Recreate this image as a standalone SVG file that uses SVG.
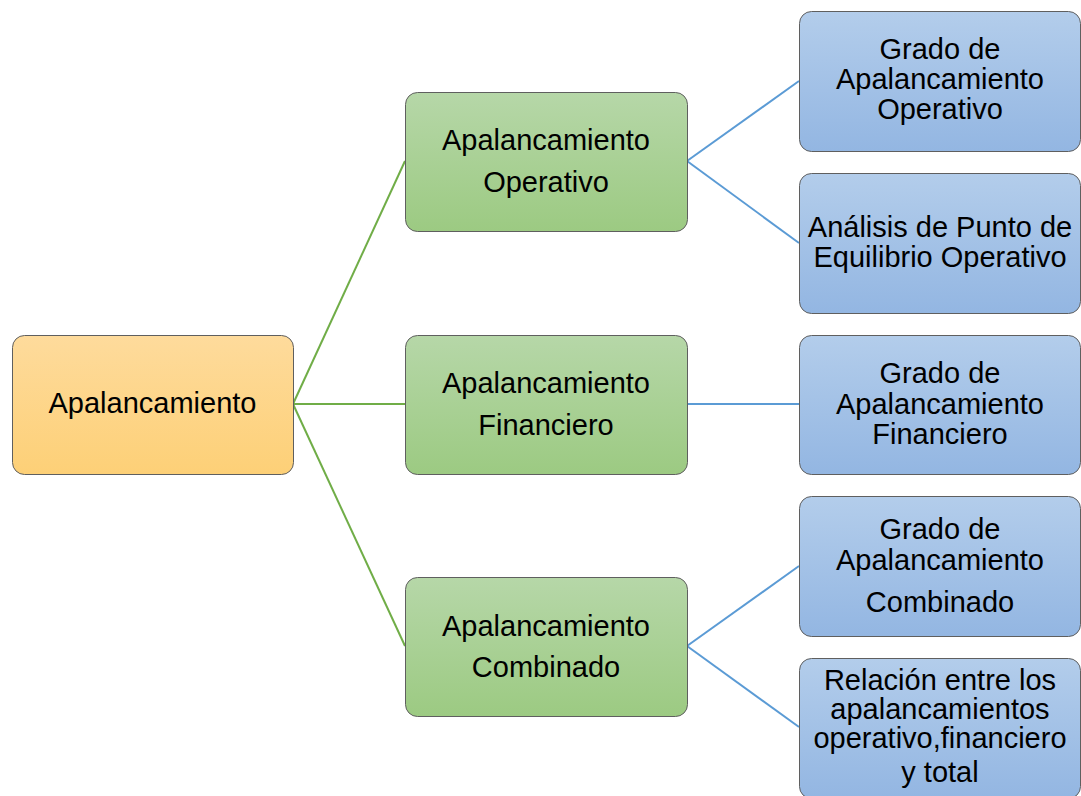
<svg xmlns="http://www.w3.org/2000/svg" width="1081" height="796" viewBox="0 0 1081 796">
<defs>
<linearGradient id="gOr" x1="0" y1="0" x2="0" y2="1"><stop offset="0" stop-color="#FEDB9C"/><stop offset="1" stop-color="#FDD077"/></linearGradient>
<linearGradient id="gGr" x1="0" y1="0" x2="0" y2="1"><stop offset="0" stop-color="#B6D7A8"/><stop offset="1" stop-color="#9CCA82"/></linearGradient>
<linearGradient id="gBl" x1="0" y1="0" x2="0" y2="1"><stop offset="0" stop-color="#B3CDEB"/><stop offset="1" stop-color="#93B6E2"/></linearGradient>
<style>
.box{stroke:#5F5F5F;stroke-width:1}
.or{fill:url(#gOr)}
.gr{fill:url(#gGr)}
.bl{fill:url(#gBl)}
text{font-family:"Liberation Sans",Arial,sans-serif;font-size:29px;fill:#000;text-anchor:middle}
.cg{stroke:#70AD47;stroke-width:2;fill:none}
.cb{stroke:#5B9BD5;stroke-width:2;fill:none}
</style>
</defs>
<rect width="1081" height="796" fill="#FFFFFF"/>
<g id="connectors">
<path class="cg" d="M293 404 L405 161"/>
<path class="cg" d="M293 404 L405 404"/>
<path class="cg" d="M293 404 L405 646"/>
<path class="cb" d="M687 161 L799 81"/>
<path class="cb" d="M687 161 L799 243"/>
<path class="cb" d="M687 404 L799 404"/>
<path class="cb" d="M687 646 L799 566"/>
<path class="cb" d="M687 646 L799 727"/>
</g>
<g id="root">
<rect class="box or" x="12.5" y="335.5" width="281" height="139" rx="12"/>
<text x="152.5" y="413">Apalancamiento</text>
</g>
<g id="op">
<rect class="box gr" x="405.5" y="92.5" width="282" height="139" rx="12"/>
<text x="546" y="150">Apalancamiento</text>
<text x="546" y="192">Operativo</text>
</g>
<g id="fin">
<rect class="box gr" x="405.5" y="335.5" width="282" height="139" rx="12"/>
<text x="546" y="393">Apalancamiento</text>
<text x="546" y="435">Financiero</text>
</g>
<g id="comb">
<rect class="box gr" x="405.5" y="577.5" width="282" height="139" rx="12"/>
<text x="546" y="636">Apalancamiento</text>
<text x="546" y="677">Combinado</text>
</g>
<g id="gao">
<rect class="box bl" x="799.5" y="11.5" width="281" height="140" rx="12"/>
<text x="940" y="59">Grado de</text>
<text x="940" y="89">Apalancamiento</text>
<text x="940" y="119">Operativo</text>
</g>
<g id="peo">
<rect class="box bl" x="799.5" y="173.5" width="281" height="140" rx="12"/>
<text x="940" y="237">Análisis de Punto de</text>
<text x="940" y="267">Equilibrio Operativo</text>
</g>
<g id="gaf">
<rect class="box bl" x="799.5" y="335.5" width="281" height="139" rx="12"/>
<text x="940" y="383">Grado de</text>
<text x="940" y="414">Apalancamiento</text>
<text x="940" y="444">Financiero</text>
</g>
<g id="gac">
<rect class="box bl" x="799.5" y="496.5" width="281" height="140" rx="12"/>
<text x="940" y="539">Grado de</text>
<text x="940" y="570">Apalancamiento</text>
<text x="940" y="612">Combinado</text>
</g>
<g id="rel">
<rect class="box bl" x="799.5" y="658.5" width="281" height="140" rx="12"/>
<text x="940" y="690">Relación entre los</text>
<text x="940" y="719">apalancamientos</text>
<text x="940" y="748">operativo,financiero</text>
<text x="940" y="782">y total</text>
</g>
</svg>
